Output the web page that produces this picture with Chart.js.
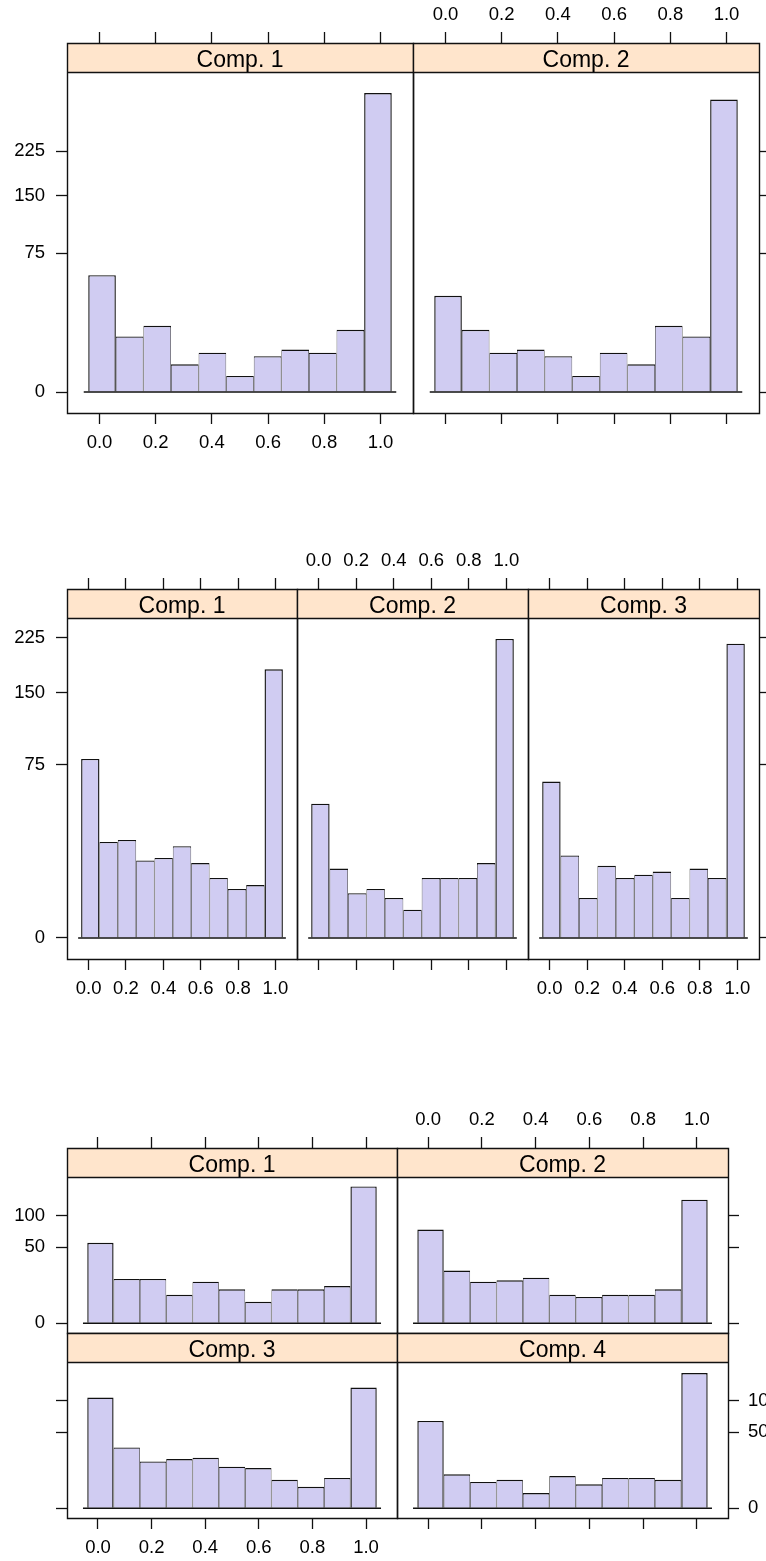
<!DOCTYPE html>
<html>
<head>
<meta charset="utf-8">
<script src="https://cdn.jsdelivr.net/npm/chart.js@4"></script>
<style>
html,body{margin:0;padding:0;background:#fff;overflow:hidden;}
body{width:766px;height:1561px;position:relative;}
canvas{position:absolute;}
</style>
</head>
<body>
<script>
// ---------- data ----------
const binMids = [0.00909, 0.10727, 0.20545, 0.30364, 0.40182, 0.50000, 0.59818, 0.69636, 0.79455, 0.89273, 0.99091];
const xTickValues = [0, 0.2, 0.4, 0.6, 0.8, 1.0];
const xTickLabels = ['0.0', '0.2', '0.4', '0.6', '0.8', '1.0'];
const yTicksWide = [0, 75, 150, 225];
const yTicksNarrow = [0, 50, 100];
const zeroLineX = [-0.056, 1.056];
const panelTitles = ['Comp. 1', 'Comp. 2', 'Comp. 3', 'Comp. 4'];

const twoComp1 = [53, 12, 17, 3, 6, 1, 5, 7, 6, 15, 347];
const twoComp2 = [36, 15, 6, 7, 5, 1, 6, 3, 17, 12, 332];

const threeComp1 = [80, 23, 24, 15, 16, 21, 14, 9, 6, 7, 180];
const threeComp2 = [45, 12, 5, 6, 4, 2, 9, 9, 9, 14, 223];
const threeComp3 = [61, 17, 4, 13, 9, 10, 11, 4, 12, 9, 216];

const fourComp1 = [56, 17, 17, 7, 15, 10, 4, 10, 10, 12, 162];
const fourComp2 = [76, 24, 15, 16, 18, 7, 6, 7, 7, 10, 132];
const fourComp3 = [106, 32, 19, 21, 22, 15, 14, 7, 4, 8, 126];
const fourComp4 = [66, 10, 6, 7, 2, 9, 5, 8, 8, 7, 158];

// ---------- layout / style ----------
const X_RANGE = [-0.1156, 1.1156];
const groups = {
  two:   { yr: [-1.307, 19.94], yt: yTicksWide },
  three: { yr: [-1.05, 15.98],  yt: yTicksWide },
  four:  { yr: [-0.90, 13.6],   yt: yTicksNarrow }
};
const STRIP = 29, TICK = 11;
const L = 60, R = 60, T = 80, B = 55;
const BAR_FILL = '#D0CCF2', STRIP_FILL = '#FFE5CC';
const LINE = '#111';
const FONT = '"Liberation Sans", Arial, Helvetica, sans-serif';

Chart.defaults.font.family = FONT;
Chart.defaults.font.size = 18.5;
Chart.defaults.color = '#000';

// mode: 'L' = ticks + labels, 'T' = ticks only, '' = nothing
const panels = [
  { g: 'two', counts: twoComp1, t: 0, x0: 67,  x1: 413, sB: 72,   bot: 413,  left: 'L', right: '',  top: 'T', bottom: 'L' },
  { g: 'two', counts: twoComp2, t: 1, x0: 413, x1: 759, sB: 72,   bot: 413,  left: '',  right: 'T', top: 'L', bottom: 'T' },

  { g: 'three', counts: threeComp1, t: 0, x0: 67,  x1: 297, sB: 618, bot: 959, left: 'L', right: '',  top: 'T', bottom: 'L' },
  { g: 'three', counts: threeComp2, t: 1, x0: 297, x1: 528, sB: 618, bot: 959, left: '',  right: '',  top: 'L', bottom: 'T' },
  { g: 'three', counts: threeComp3, t: 2, x0: 528, x1: 759, sB: 618, bot: 959, left: '',  right: 'T', top: 'T', bottom: 'L' },

  { g: 'four', counts: fourComp1, t: 0, x0: 67,  x1: 397, sB: 1177, bot: 1333, left: 'L', right: '',  top: 'T', bottom: '' },
  { g: 'four', counts: fourComp2, t: 1, x0: 397, x1: 728, sB: 1177, bot: 1333, left: '',  right: 'T', top: 'L', bottom: '' },
  { g: 'four', counts: fourComp3, t: 2, x0: 67,  x1: 397, sB: 1362, bot: 1518, left: 'T', right: '',  top: '',  bottom: 'L' },
  { g: 'four', counts: fourComp4, t: 3, x0: 397, x1: 728, sB: 1362, bot: 1518, left: '',  right: 'L', top: '',  bottom: 'T' }
];

function xScale(pos, mode) {
  return {
    type: 'linear', position: pos, min: X_RANGE[0], max: X_RANGE[1],
    offset: false,
    border: { display: false },
    grid: { offset: false, drawOnChartArea: false, drawTicks: !!mode, tickLength: pos === 'top' ? STRIP + TICK : TICK, color: LINE, tickWidth: 1.3 },
    ticks: { display: mode === 'L', padding: pos === 'top' ? 6 : 8, maxRotation: 0, autoSkip: false,
             callback: (v, i) => xTickLabels[i] },
    afterBuildTicks: s => { s.ticks = xTickValues.map(v => ({ value: v })); },
    afterFit: s => { s.height = pos === 'top' ? T : B; }
  };
}
function yScale(pos, mode, g) {
  return {
    type: 'linear', position: pos, min: g.yr[0], max: g.yr[1],
    offset: false,
    border: { display: false },
    grid: { offset: false, drawOnChartArea: false, drawTicks: !!mode, tickLength: TICK, color: LINE, tickWidth: 1.3 },
    ticks: { display: mode === 'L', padding: pos === 'left' ? 11 : 9, autoSkip: false,
             callback: (v, i) => String(g.yt[i]) },
    afterBuildTicks: s => { s.ticks = g.yt.map(v => ({ value: Math.sqrt(v) })); },
    afterFit: s => { s.width = pos === 'left' ? L : R; }
  };
}

const panelDeco = {
  id: 'panelDeco',
  afterDatasetsDraw(chart, args, o) {
    const { ctx, chartArea: a } = chart;
    const top = a.top - STRIP;
    ctx.save();
    ctx.fillStyle = STRIP_FILL;
    ctx.fillRect(a.left, top, a.right - a.left, STRIP);
    ctx.strokeStyle = LINE;
    ctx.lineWidth = 1.4;
    ctx.beginPath();
    ctx.rect(a.left + 0.5, top + 0.5, a.right - a.left, a.bottom - top);
    ctx.moveTo(a.left + 0.5, a.top + 0.5);
    ctx.lineTo(a.right + 0.5, a.top + 0.5);
    ctx.stroke();
    ctx.fillStyle = '#000';
    ctx.font = '23px ' + FONT;
    ctx.textAlign = 'center';
    ctx.textBaseline = 'alphabetic';
    ctx.fillText(o.title, (a.left + a.right) / 2, a.top - 5.5);
    ctx.restore();
  }
};

panels.forEach(p => {
  const g = groups[p.g];
  const w = p.x1 - p.x0 + L + R, h = p.bot - p.sB + T + B;
  const cv = document.createElement('canvas');
  cv.width = w; cv.height = h;
  cv.style.left = (p.x0 - L) + 'px';
  cv.style.top = (p.sB - T) + 'px';
  cv.style.width = w + 'px';
  cv.style.height = h + 'px';
  document.body.appendChild(cv);
  const last = p.counts.length - 1;
  new Chart(cv, {
    type: 'bar',
    data: {
      datasets: [
        {
          type: 'line', order: 0,
          data: zeroLineX.map(x => ({ x: x, y: 0 })),
          borderColor: LINE, borderWidth: 1.6, pointRadius: 0, fill: false,
          xAxisID: 'x', yAxisID: 'y'
        },
        {
          type: 'bar', order: 1,
          data: p.counts.map((c, i) => ({ x: binMids[i], y: Math.sqrt(c) })),
          backgroundColor: BAR_FILL, borderColor: LINE,
          borderWidth: ctx => {
            const side = (ctx.dataIndex === 0 || ctx.dataIndex === last) ? 1.4 : 0.7;
            return { left: side, top: 1.4, right: side, bottom: 0 };
          },
          borderSkipped: false,
          inflateAmount: 0,
          barPercentage: 1, categoryPercentage: 1, grouped: false,
          xAxisID: 'x', yAxisID: 'y'
        }
      ]
    },
    options: {
      responsive: false, animation: false, devicePixelRatio: 1,
      events: [],
      layout: { padding: 0 },
      plugins: { legend: { display: false }, tooltip: { enabled: false }, title: { display: false },
                 panelDeco: { title: panelTitles[p.t] } },
      scales: {
        x: xScale('bottom', p.bottom),
        x2: xScale('top', p.top),
        y: yScale('left', p.left, g),
        y2: yScale('right', p.right, g)
      }
    },
    plugins: [panelDeco]
  });
});
</script>
</body>
</html>
